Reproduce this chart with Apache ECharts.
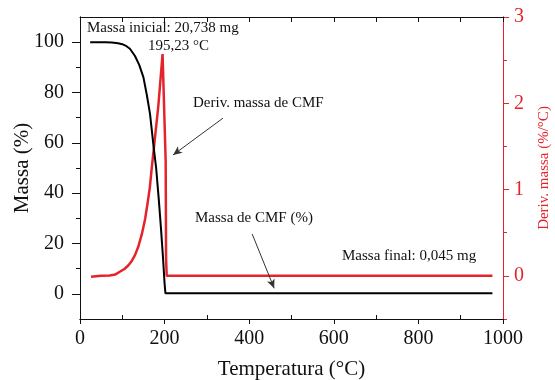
<!DOCTYPE html>
<html>
<head>
<meta charset="utf-8">
<script src="https://cdn.jsdelivr.net/npm/echarts@6/dist/echarts.min.js"></script>
<style>
  html, body {margin: 0; padding: 0; background: #fff;}
  #chart {width: 555px; height: 380px;}
</style>
</head>
<body>
<div id="chart"></div>
<script>
// curva de massa (TG)
const massTemp = [24, 40, 60, 75, 90, 100, 110, 118, 130, 140, 150, 158, 165.5, 173, 180, 186, 191, 196, 200, 202, 975];
const massValues = [100, 100, 100, 99.9, 99.6, 99.2, 98.4, 97.4, 94.5, 91, 86, 79, 71.5, 60, 50, 38, 27, 15, 4, 0.2, 0.2];
// curva derivada (DTG)
const derivTemp = [26, 50, 70, 83, 95, 105, 114, 122, 130, 138, 146, 154, 160, 165, 169, 173.3, 185, 195.2, 202.5, 203.5, 205, 975];
const derivValues = [-0.01, 0, 0.005, 0.015, 0.05, 0.08, 0.12, 0.17, 0.24, 0.34, 0.48, 0.66, 0.85, 1.02, 1.22, 1.42, 1.96, 2.57, 1.34, 0.2, 0, 0];

const massTicks = [0, 20, 40, 60, 80, 100];
const massMinorTicks = [10, 30, 50, 70, 90];
const derivTicks = [0, 1, 2, 3];
const derivMinorTicks = [-0.5, 0.5, 1.5, 2.5];
const tempMinorTicks = [100, 300, 500, 700, 900];

const RED = '#e3242b';
const FONT = 'Liberation Serif';

const chart = echarts.init(document.getElementById('chart'));

const pair = (xs, ys) => xs.map((x, i) => [x, ys[i]]);

chart.setOption({
    animation: false,
    textStyle: {fontFamily: FONT},
    grid: {left: 80, right: 52, top: 17, bottom: 61, outerBoundsMode: 'none', containLabel: false},
    xAxis: [
        {
            type: 'value', position: 'bottom', min: 0, max: 1000, interval: 200,
            name: 'Temperatura (°C)', nameLocation: 'middle', nameGap: 40, nameMoveOverlap: false,
            nameTextStyle: {fontSize: 21, color: '#111', fontFamily: FONT},
            axisLine: {onZero: false, lineStyle: {color: '#111', width: 1}},
            axisTick: {length: 5, lineStyle: {color: '#111'}},
            axisLabel: {fontSize: 20, color: '#111', margin: 10, fontFamily: FONT, formatter: v => String(v)},
            splitLine: {show: false}
        },
        {
            type: 'value', position: 'top', min: 0, max: 1000, interval: 100,
            axisLine: {onZero: false, lineStyle: {color: '#111', width: 1}},
            axisTick: {inside: true, length: 5, lineStyle: {color: '#111'}},
            axisLabel: {show: false},
            splitLine: {show: false}
        },
        {
            type: 'value', position: 'bottom', min: 0, max: 1000,
            axisLine: {onZero: false, lineStyle: {color: '#111', width: 1}},
            axisTick: {inside: true, length: 4, customValues: tempMinorTicks, lineStyle: {color: '#111'}},
            axisLabel: {show: false},
            splitLine: {show: false}
        }
    ],
    yAxis: [
        {
            type: 'value', position: 'left', min: -10, max: 110,
            name: 'Massa (%)', nameLocation: 'middle', nameGap: 47, nameMoveOverlap: false,
            nameTextStyle: {fontSize: 21, color: '#111', fontFamily: FONT},
            axisLine: {onZero: false, lineStyle: {color: '#111', width: 1}},
            axisTick: {length: 8, customValues: massTicks, lineStyle: {color: '#111'}},
            axisLabel: {fontSize: 20, color: '#111', margin: 16, customValues: massTicks, fontFamily: FONT},
            splitLine: {show: false}
        },
        {
            type: 'value', position: 'right', min: -0.5, max: 3,
            name: 'Deriv. massa (%/°C)', nameLocation: 'middle', nameGap: 34, nameMoveOverlap: false,
            nameTextStyle: {fontSize: 15, color: RED, fontFamily: FONT},
            axisLine: {onZero: false, lineStyle: {color: RED, width: 1}},
            axisTick: {length: 6, customValues: derivTicks, lineStyle: {color: RED}},
            axisLabel: {fontSize: 20, color: RED, margin: 11, customValues: derivTicks, fontFamily: FONT},
            splitLine: {show: false}
        },
        {
            type: 'value', position: 'left', min: -10, max: 110,
            axisLine: {onZero: false, lineStyle: {color: '#111', width: 1}},
            axisTick: {length: 4, customValues: massMinorTicks, lineStyle: {color: '#111'}},
            axisLabel: {show: false},
            splitLine: {show: false}
        },
        {
            type: 'value', position: 'right', min: -0.5, max: 3,
            axisLine: {onZero: false, lineStyle: {color: RED, width: 1}},
            axisTick: {length: 4, customValues: derivMinorTicks, lineStyle: {color: RED}},
            axisLabel: {show: false},
            splitLine: {show: false}
        }
    ],
    series: [
        {
            name: 'Massa de CMF (%)',
            type: 'line',
            xAxisIndex: 0, yAxisIndex: 0,
            data: pair(massTemp, massValues),
            symbol: 'none',
            lineStyle: {color: '#000', width: 2},
            markLine: {
                silent: true,
                symbol: ['none', 'arrow'],
                symbolSize: [6, 9],
                label: {show: false},
                lineStyle: {color: '#333', width: 1, type: 'solid'},
                data: [
                    [{coord: [338, 69.8]}, {coord: [220, 55.2]}],
                    [{coord: [407, 23.8]}, {coord: [459, 2.2]}]
                ]
            },
            z: 3
        },
        {
            name: 'Deriv. massa de CMF',
            type: 'line',
            xAxisIndex: 0, yAxisIndex: 1,
            data: pair(derivTemp, derivValues),
            symbol: 'none',
            lineStyle: {color: RED, width: 2.5},
            z: 2
        }
    ],
    graphic: [
        {type: 'text', left: 87, top: 21, style: {text: 'Massa inicial: 20,738 mg', font: '15px "Liberation Serif"', fill: '#111'}},
        {type: 'text', left: 148, top: 39, style: {text: '195,23 °C', font: '15px "Liberation Serif"', fill: '#111'}},
        {type: 'text', left: 193, top: 96, style: {text: 'Deriv. massa de CMF', font: '15px "Liberation Serif"', fill: '#111'}},
        {type: 'text', left: 195, top: 211, style: {text: 'Massa de CMF (%)', font: '15px "Liberation Serif"', fill: '#111'}},
        {type: 'text', left: 342, top: 249, style: {text: 'Massa final: 0,045 mg', font: '15px "Liberation Serif"', fill: '#111'}}
    ]
});
</script>
</body>
</html>
